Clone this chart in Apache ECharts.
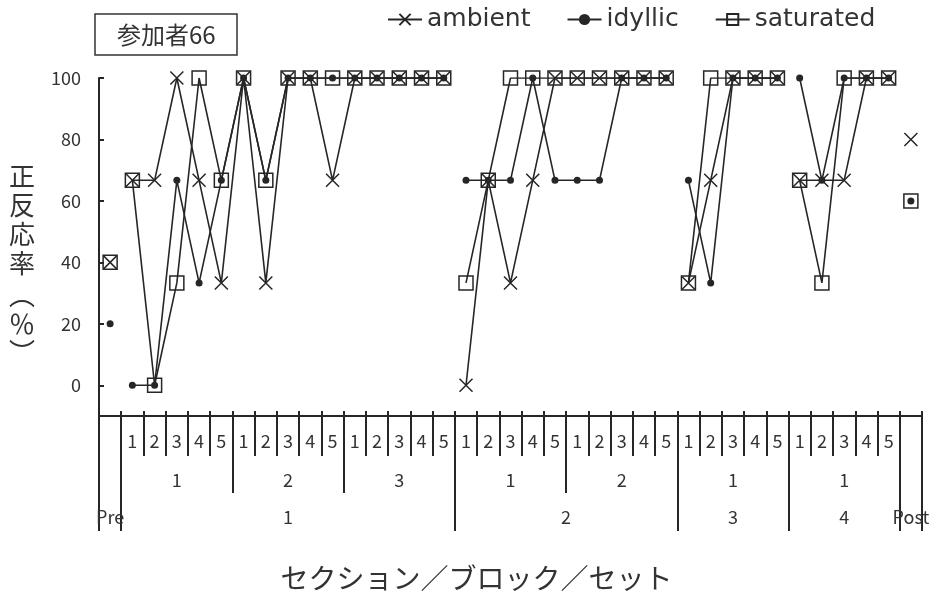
<!DOCTYPE html>
<html><head><meta charset="utf-8">
<script src="https://cdn.jsdelivr.net/npm/echarts@6/dist/echarts.min.js"></script>
<style>html,body{margin:0;padding:0;background:#fff}#c{width:937px;height:597px}</style>
</head><body><div id="c"></div>
<script>
// ---- data ----
const sectionLabels = ['Pre', '1', '2', '3', '4', 'Post'];
const blockLabels = [[], ['1', '2', '3'], ['1', '2'], ['1'], ['1'], []];
const setLabels = ['1', '2', '3', '4', '5'];
const yTickValues = [0, 20, 40, 60, 80, 100];
const seriesNames = ['ambient', 'idyllic', 'saturated'];
const yTitleMain = '正\n反\n応\n率';
const yTitleParen = ['︵', '％', '︶'];
const xTitle = 'セクション／ブロック／セット';
const chartTitle = '参加者66';
// Pre | S1 B1 | S1 B2 | S1 B3 | S2 B1 | S2 B2 | S3 B1 | S4 B1 | Post
const ambient = [40,
  66.7, 66.7, 100, 66.7, 33.3,  100, 33.3, 100, 100, 66.7,  100, 100, 100, 100, 100,
  0, 66.7, 33.3, 66.7, 100,  100, 100, 100, 100, 100,
  33.3, 66.7, 100, 100, 100,
  66.7, 66.7, 66.7, 100, 100,
  80];
const idyllic = [20,
  0, 0, 66.7, 33.3, 66.7,  100, 66.7, 100, 100, 100,  100, 100, 100, 100, 100,
  66.7, 66.7, 66.7, 100, 66.7,  66.7, 66.7, 100, 100, 100,
  66.7, 33.3, 100, 100, 100,
  100, 66.7, 100, 100, 100,
  60];
const saturated = [40,
  66.7, 0, 33.3, 100, 66.7,  100, 66.7, 100, 100, 100,  100, 100, 100, 100, 100,
  33.3, 66.7, 100, 100, 100,  100, 100, 100, 100, 100,
  33.3, 100, 100, 100, 100,
  66.7, 33.3, 100, 100, 100,
  60];

// ---- build hierarchical category rows ----
const setRow = [], blockRow = [], sectionRow = [];
const blockStarts = new Set(), blockMids = new Set(), sectionStarts = new Set();
const sectionMids = {};
const segments = [];
let idx = 0;
sectionLabels.forEach((sec, si) => {
  const start = idx;
  const blocks = blockLabels[si];
  if (!blocks.length) {
    setRow.push(''); blockRow.push(''); sectionRow.push(sec);
    blockStarts.add(idx); idx++;
  } else {
    blocks.forEach(b => {
      const bs = idx;
      blockStarts.add(bs);
      setLabels.forEach(s => { setRow.push(s); blockRow.push(b); sectionRow.push(sec); idx++; });
      blockMids.add(bs + Math.floor(setLabels.length / 2));
    });
  }
  sectionStarts.add(start);
  const count = idx - start;
  segments.push([start, idx - 1]);
  sectionMids[start + Math.floor((count - 1) / 2)] = (count % 2 === 0);
});
const N = setRow.length;

const chart = echarts.init(document.getElementById('c'), null, {renderer: 'canvas', width: 937, height: 597});
const grid = {left: 99, right: 15, top: 78, bottom: 179};
const band = (937 - grid.left - grid.right) / N;

const LINE = '#262626';
const TXT = '#333';
const FONT = 'Noto Sans CJK JP';
const axisLineStyle = {color: LINE, width: 2};

const sectionData = sectionRow.map((v, i) => (sectionMids[i] === true)
  ? {value: v, textStyle: {padding: [0, 0, 0, band]}} : v);

const xAxes = [
  { // set row + main axis line
    type: 'category', position: 'bottom', data: setRow, boundaryGap: true,
    axisLine: {show: true, onZero: false, lineStyle: axisLineStyle},
    axisTick: {show: true, inside: true, length: 5, interval: 0, lineStyle: axisLineStyle},
    axisLabel: {show: true, interval: 0, margin: 16, fontSize: 18, color: TXT, fontFamily: FONT},
    splitLine: {show: false}
  },
  { // set separators
    type: 'category', position: 'bottom', data: setRow, boundaryGap: true,
    axisLine: {show: false, onZero: false},
    axisTick: {show: true, inside: false, length: 40, interval: 0, lineStyle: axisLineStyle},
    axisLabel: {show: false}, splitLine: {show: false}
  },
  { // block row
    type: 'category', position: 'bottom', data: blockRow, boundaryGap: true,
    axisLine: {show: false, onZero: false},
    axisTick: {show: true, inside: false, length: 77, interval: (i) => blockStarts.has(i), lineStyle: axisLineStyle},
    axisLabel: {show: true, interval: (i) => blockMids.has(i), margin: 55, fontSize: 18, color: TXT, fontFamily: FONT},
    splitLine: {show: false}
  },
  { // section row
    type: 'category', position: 'bottom', data: sectionData, boundaryGap: true,
    axisLine: {show: false, onZero: false},
    axisTick: {show: true, inside: false, length: 115, interval: (i) => sectionStarts.has(i), lineStyle: axisLineStyle},
    axisLabel: {show: true, interval: (i) => (i in sectionMids), margin: 92, fontSize: 18, color: TXT, fontFamily: FONT},
    splitLine: {show: false},
    name: xTitle, nameLocation: 'middle', nameGap: 148,
    nameTextStyle: {fontSize: 28, color: TXT, fontFamily: FONT, padding: [0, 68, 0, 0]}
  }
];

const symbols = {
  ambient: {symbol: 'path://M0,0L10,10M10,0L0,10', symbolSize: 13,
    itemStyle: {color: 'none', borderColor: LINE, borderWidth: 1.5}},
  idyllic: {symbol: 'circle', symbolSize: 7,
    itemStyle: {color: LINE, borderWidth: 0}},
  saturated: {symbol: 'rect', symbolSize: 14,
    itemStyle: {color: 'none', borderColor: LINE, borderWidth: 1.5}}
};
const valuesByName = {ambient, idyllic, saturated};

const series = [];
seriesNames.forEach((name, k) => {
  segments.forEach(([s, e]) => {
    const data = valuesByName[name].map((v, i) => (i >= s && i <= e) ? v : null);
    series.push(Object.assign({
      type: 'line', name, data, xAxisIndex: 0, yAxisIndex: 0,
      showAllSymbol: true, connectNulls: false, silent: true, z: 3 + k,
      lineStyle: {color: LINE, width: 1.6}
    }, symbols[name]));
  });
});

const yTitleFont = '26px "' + FONT + '"';
chart.setOption({
  animation: false,
  textStyle: {fontFamily: FONT, color: TXT},
  title: {
    text: chartTitle, left: 95, top: 14,
    borderColor: '#333', borderWidth: 1.5, padding: [7, 22, 7, 22],
    textStyle: {fontSize: 24, fontWeight: 'normal', color: TXT, fontFamily: FONT, lineHeight: 27}
  },
  legend: {
    data: seriesNames, left: 382, top: 2, itemWidth: 34, itemHeight: 14, itemGap: 36,
    textStyle: {fontSize: 25, color: TXT, fontFamily: 'DejaVu Sans'}
  },
  grid: Object.assign({containLabel: false}, grid),
  xAxis: xAxes,
  yAxis: {
    type: 'value', min: -10, max: 100, interval: 10,
    axisLine: {show: true, lineStyle: axisLineStyle},
    axisTick: {show: true, inside: true, length: 5, customValues: yTickValues, lineStyle: axisLineStyle},
    axisLabel: {customValues: yTickValues, margin: 18, fontSize: 18, color: TXT, fontFamily: FONT},
    splitLine: {show: false}
  },
  graphic: [
    {type: 'text', x: 22, y: 162, silent: true,
      style: {text: yTitleMain, font: yTitleFont, lineHeight: 29, align: 'center', verticalAlign: 'top', fill: TXT}},
    {type: 'text', x: 22, y: 295, silent: true,
      style: {text: yTitleParen[0], font: yTitleFont, align: 'center', verticalAlign: 'middle', fill: TXT}},
    {type: 'text', x: 22, y: 324, silent: true,
      style: {text: yTitleParen[1], font: yTitleFont, align: 'center', verticalAlign: 'middle', fill: TXT}},
    {type: 'text', x: 22, y: 352, silent: true,
      style: {text: yTitleParen[2], font: yTitleFont, align: 'center', verticalAlign: 'middle', fill: TXT}}
  ],
  series
});
</script>
</body></html>
